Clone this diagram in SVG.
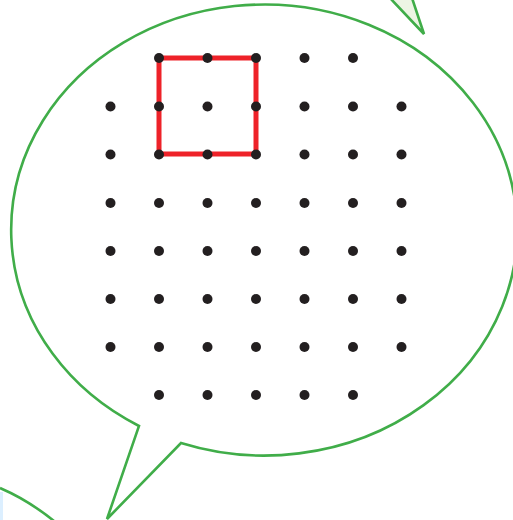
<svg xmlns="http://www.w3.org/2000/svg" width="513" height="520" viewBox="0 0 513 520">
<style>
.g{fill:none;stroke:#40ad49;stroke-width:2.6;stroke-linejoin:miter}
.d{fill:#231f20}
</style>
<rect width="513" height="520" fill="#fff"/>
<g id="bubble-top-right">
<path d="M390,-2 L424,34 L412,-2 Z" fill="#edf5e4" stroke="none"/>
<path d="M390,-2 L424,34 L412,-2" class="g"/>
</g>
<g id="bubble-bottom-left">
<rect x="0" y="492" width="3" height="28" fill="#dcefff"/>
<path d="M0,488 Q28,500 54,521" class="g"/>
</g>
<g id="bubble">
<path d="M139,426 A253,225.5 0 1 1 181,443 L107,519 Z" fill="#fff" stroke="#40ad49" stroke-width="2.6"/>
</g>
<g id="square">
<rect x="159" y="58" width="97" height="96" fill="none" stroke="#ee2229" stroke-width="5"/>
</g>
<g id="dots" class="d">
<circle cx="159" cy="58" r="5"/><circle cx="207.5" cy="58" r="5"/><circle cx="256" cy="58" r="5"/><circle cx="304.5" cy="58" r="5"/><circle cx="353" cy="58" r="5"/>
<circle cx="110.5" cy="106.5" r="5"/><circle cx="159" cy="106.5" r="5"/><circle cx="207.5" cy="106.5" r="5"/><circle cx="256" cy="106.5" r="5"/><circle cx="304.5" cy="106.5" r="5"/><circle cx="353" cy="106.5" r="5"/><circle cx="401.5" cy="106.5" r="5"/>
<circle cx="110.5" cy="154.5" r="5"/><circle cx="159" cy="154.5" r="5"/><circle cx="207.5" cy="154.5" r="5"/><circle cx="256" cy="154.5" r="5"/><circle cx="304.5" cy="154.5" r="5"/><circle cx="353" cy="154.5" r="5"/><circle cx="401.5" cy="154.5" r="5"/>
<circle cx="110.5" cy="203" r="5"/><circle cx="159" cy="203" r="5"/><circle cx="207.5" cy="203" r="5"/><circle cx="256" cy="203" r="5"/><circle cx="304.5" cy="203" r="5"/><circle cx="353" cy="203" r="5"/><circle cx="401.5" cy="203" r="5"/>
<circle cx="110.5" cy="251" r="5"/><circle cx="159" cy="251" r="5"/><circle cx="207.5" cy="251" r="5"/><circle cx="256" cy="251" r="5"/><circle cx="304.5" cy="251" r="5"/><circle cx="353" cy="251" r="5"/><circle cx="401.5" cy="251" r="5"/>
<circle cx="110.5" cy="299" r="5"/><circle cx="159" cy="299" r="5"/><circle cx="207.5" cy="299" r="5"/><circle cx="256" cy="299" r="5"/><circle cx="304.5" cy="299" r="5"/><circle cx="353" cy="299" r="5"/><circle cx="401.5" cy="299" r="5"/>
<circle cx="110.5" cy="347" r="5"/><circle cx="159" cy="347" r="5"/><circle cx="207.5" cy="347" r="5"/><circle cx="256" cy="347" r="5"/><circle cx="304.5" cy="347" r="5"/><circle cx="353" cy="347" r="5"/><circle cx="401.5" cy="347" r="5"/>
<circle cx="159" cy="395" r="5"/><circle cx="207.5" cy="395" r="5"/><circle cx="256" cy="395" r="5"/><circle cx="304.5" cy="395" r="5"/><circle cx="353" cy="395" r="5"/>
</g>
<g id="connectors"/>
</svg>
